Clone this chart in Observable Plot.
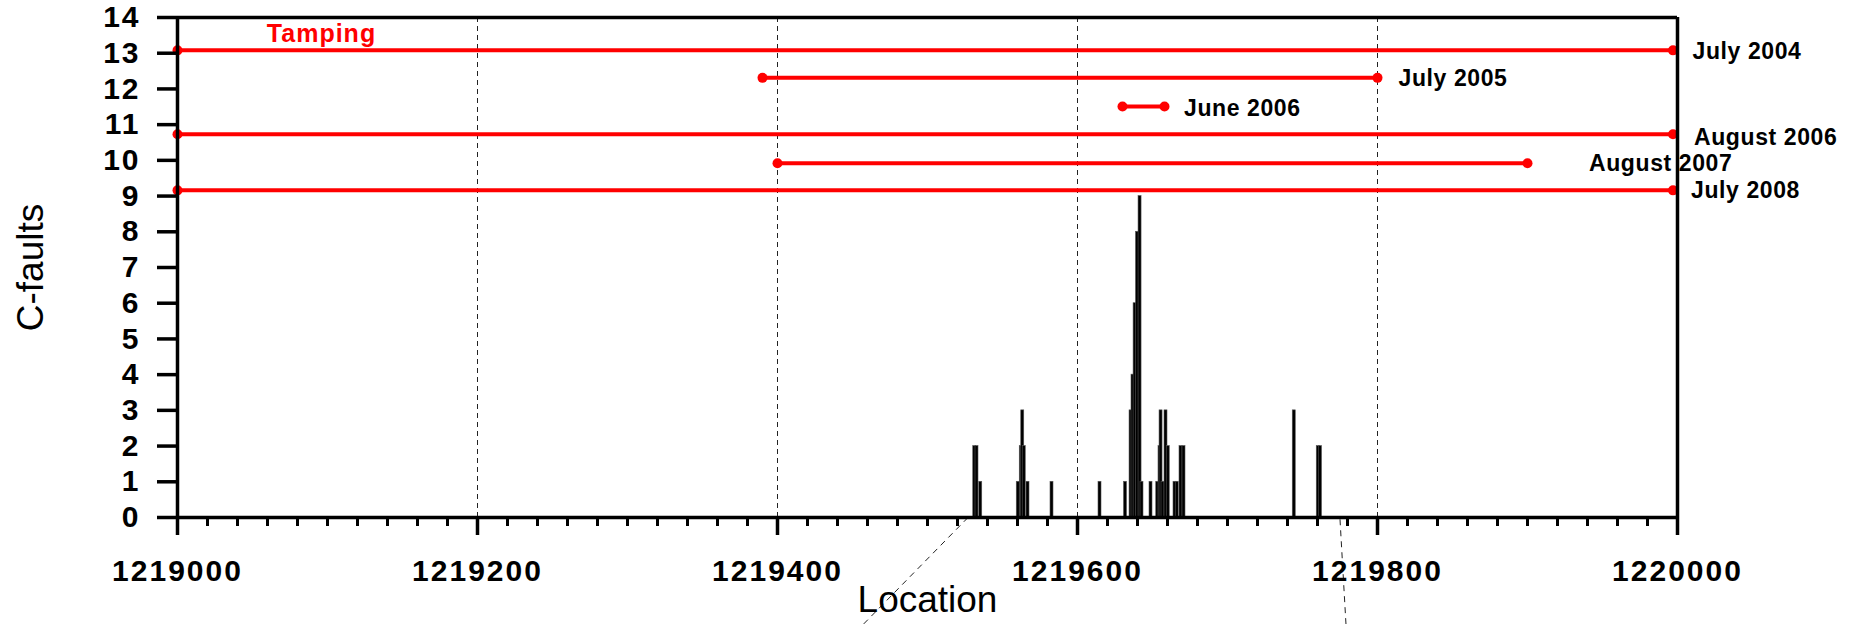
<!DOCTYPE html>
<html>
<head>
<meta charset="utf-8">
<script src="https://cdn.jsdelivr.net/npm/d3@7"></script>
<script src="https://cdn.jsdelivr.net/npm/@observablehq/plot@0.6"></script>
<style>
  html, body { margin: 0; padding: 0; background: #fff; }
  #chart svg { display: block; }
  .wide text { letter-spacing: 2px; }
  .lbl text { letter-spacing: 0.6px; }
  .tamp text { letter-spacing: 1px; }
</style>
</head>
<body>
<div id="chart"></div>
<script>
// ---- Data ----
const faultLoc = [1219531.5, 1219533, 1219535.5, 1219560.5, 1219562.5, 1219563.5, 1219564.5, 1219567,
  1219583, 1219615, 1219632, 1219635.7, 1219637, 1219638.4, 1219640, 1219641.7, 1219643, 1219649,
  1219653.5, 1219655, 1219655.7, 1219657, 1219659, 1219660.5, 1219665, 1219666.5, 1219669, 1219671,
  1219744.5, 1219760.5, 1219762];
const faultCount = [2, 2, 1, 1, 2, 3, 2, 1,
  1, 1, 1, 3, 4, 6, 8, 9, 1, 1,
  1, 2, 3, 1, 3, 2, 1, 1, 2, 2,
  3, 2, 2];

const campaignName = ["July 2004", "July 2005", "June 2006", "August 2006", "August 2007", "July 2008"];
const campaignStart = [1219000, 1219390, 1219630, 1219000, 1219400, 1219000];
const campaignEnd = [1219997, 1219800, 1219658, 1219997, 1219900, 1219997];
const campaignLevel = [13.08, 12.31, 11.51, 10.73, 9.92, 9.16];
const campaignLabelX = [1220010, 1219814, 1219671, 1220011, 1219941, 1220009];
const campaignLabelY = [13.05, 12.3, 11.46, 10.64, 9.92, 9.16];

const yTicks = [0, 1, 2, 3, 4, 5, 6, 7, 8, 9, 10, 11, 12, 13, 14];
const xMajorTicks = [1219000, 1219200, 1219400, 1219600, 1219800, 1220000];
const xMinorTicks = d3.range(1219000, 1220001, 20);
const gridLines = [1219200, 1219400, 1219600, 1219800];

const connectorX1 = [1219527, 1219775];
const connectorY1 = [0, -0.05];
const connectorX2 = [1219457, 1219779];
const connectorY2 = [-3.0, -3.0];

const tampingLabel = {text: "Tamping", x: 1219096, y: 13.54};
const xTitle = "Location";
const yTitle = "C-faults";

// ---- Tables ----
const faults = faultLoc.map((d, i) => ({loc: d, count: faultCount[i]}));
const campaigns = campaignName.map((n, i) => ({
  name: n, start: campaignStart[i], end: campaignEnd[i], level: campaignLevel[i],
  lx: campaignLabelX[i], ly: campaignLabelY[i]
}));
const connectors = connectorX1.map((d, i) => ({x1: d, y1: connectorY1[i], x2: connectorX2[i], y2: connectorY2[i]}));

const RED = "#ff0000";
const chart = Plot.plot({
  width: 1854,
  height: 624,
  marginTop: 17,
  marginBottom: 107,
  marginLeft: 177,
  marginRight: 177,
  x: {domain: [1219000, 1220000]},
  y: {domain: [0, 14]},
  style: {fontFamily: "'Liberation Sans', Arial, sans-serif", background: "#fff", color: "#000"},
  marks: [
    Plot.ruleX(gridLines, {stroke: "#222", strokeWidth: 1, strokeDasharray: "5,4"}),
    Plot.link(connectors, {x1: "x1", y1: "y1", x2: "x2", y2: "y2", stroke: "#222", strokeWidth: 1, strokeDasharray: "6,5"}),
    Plot.rectY(faults, {x1: d => d.loc - 1, x2: d => d.loc + 1, y: "count", fill: "#000", stroke: "#555", strokeWidth: 0.6}),
    Plot.link(campaigns, {x1: "start", x2: "end", y1: "level", y2: "level", stroke: RED, strokeWidth: 4}),
    Plot.dot(campaigns, {x: "start", y: "level", r: 5, fill: RED}),
    Plot.dot(campaigns, {x: "end", y: "level", r: 5, fill: RED}),
    Plot.text(campaigns, {x: "lx", y: "ly", text: "name", textAnchor: "start", fontSize: 23, fontWeight: "bold", fill: "#000", className: "lbl"}),
    Plot.text([tampingLabel], {x: "x", y: "y", text: "text", fontSize: 25, fontWeight: "bold", fill: RED, className: "tamp"}),
    // frame
    Plot.ruleY([0], {strokeWidth: 3.5, stroke: "#000"}),
    Plot.ruleY([14], {strokeWidth: 3.5, stroke: "#000"}),
    Plot.ruleX([1219000], {strokeWidth: 3.5, stroke: "#000"}),
    Plot.ruleX([1220000], {strokeWidth: 3.5, stroke: "#000"}),
    // axes
    Plot.axisY(yTicks, {tickSize: 20, tickPadding: 17, fontSize: 30, fontWeight: "bold", strokeWidth: 3.5, label: null, tickFormat: d => String(d), className: "wide"}),
    Plot.axisX(xMinorTicks, {tickSize: 9, strokeWidth: 3, label: null, tickFormat: () => ""}),
    Plot.axisX(xMajorTicks, {tickSize: 18, tickPadding: 24, fontSize: 30, fontWeight: "bold", strokeWidth: 3.5, label: null, tickFormat: d => String(d), className: "wide"}),
    Plot.text([yTitle], {frameAnchor: "left", dx: -146, rotate: -90, textAnchor: "middle", lineAnchor: "middle", fontSize: 37, fill: "#000"}),
    Plot.text([xTitle], {frameAnchor: "bottom", dy: 83, textAnchor: "middle", lineAnchor: "middle", fontSize: 37, fill: "#000"})
  ]
});
document.getElementById("chart").appendChild(chart);
</script>
</body>
</html>
